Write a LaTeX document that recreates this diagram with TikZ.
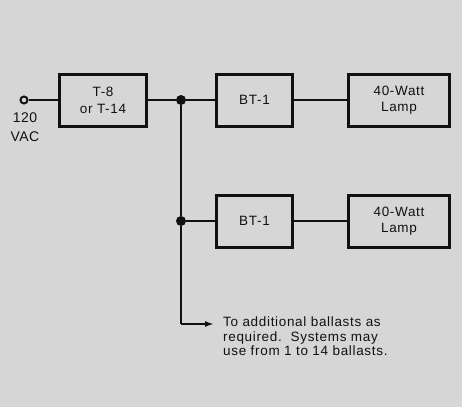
\documentclass[tikz,border=0pt]{standalone}
\usepackage{fontspec}
\setmainfont{Liberation Sans}
\usetikzlibrary{positioning,arrows.meta}
\definecolor{Paper}{HTML}{D6D6D6}
\definecolor{Ink}{HTML}{111111}

\begin{document}
\begin{tikzpicture}[x=1pt,y=-1pt,font=\fontsize{13.5}{14.5}\selectfont\addfontfeature{LetterSpace=5},every node/.style={text=Ink},block/.style={draw=Ink,line width=3pt,minimum height=52pt,align=center,inner sep=0pt},wire/.style={draw=Ink,line width=2.4pt},dot/.style={circle,fill=Ink,inner sep=0pt,minimum size=10pt}]
\fill[Paper] (0,0) rectangle (462,407);
\def\rowa{100}\def\rowb{221}\def\xbus{181}
\node[circle,draw=Ink,line width=2pt,fill=Paper,inner sep=0pt,minimum size=7pt] (term) at (24,\rowa) {};
\node[anchor=north,align=center,font=\fontsize{14}{19}\selectfont\addfontfeature{LetterSpace=3}] (volts) at (25,109) {120\\VAC};
\node[block,minimum width=87pt,font=\fontsize{13.5}{17}\selectfont\addfontfeature{LetterSpace=5}] (xfmr) at (103,\rowa) {T-8\\or T-14};
\node[dot] (busa) at (\xbus,\rowa) {};\node[dot] (busb) at (\xbus,\rowb) {};
\node[block,minimum width=76pt] (ballasta) at (254.5,\rowa) {BT-1};\node[block,minimum width=101pt,font=\fontsize{13.5}{16.5}\selectfont\addfontfeature{LetterSpace=5}] (lampa) at (399,\rowa) {40-Watt\\Lamp};
\node[block,minimum width=76pt] (ballastb) at (254.5,\rowb) {BT-1};\node[block,minimum width=101pt,font=\fontsize{13.5}{16.5}\selectfont\addfontfeature{LetterSpace=5}] (lampb) at (399,\rowb) {40-Watt\\Lamp};
\coordinate (more) at (214,324);\coordinate (bend) at (\xbus,324);
\node[anchor=north west,align=left,inner sep=0pt] (note) at (223,317) {To additional ballasts as\\required.\ \ Systems may\\use from 1 to 14 ballasts.};
\draw[wire] (term) -- (xfmr) -- (busa) -- (ballasta) -- (lampa);
\draw[wire] (busb) -- (ballastb) -- (lampb);
\draw[wire] (busa) -- (busb) -- (bend);
\draw[Ink,line width=2pt,-{Latex[length=9pt,width=6pt]}] (bend) -- (more);
\end{tikzpicture}
\end{document}
